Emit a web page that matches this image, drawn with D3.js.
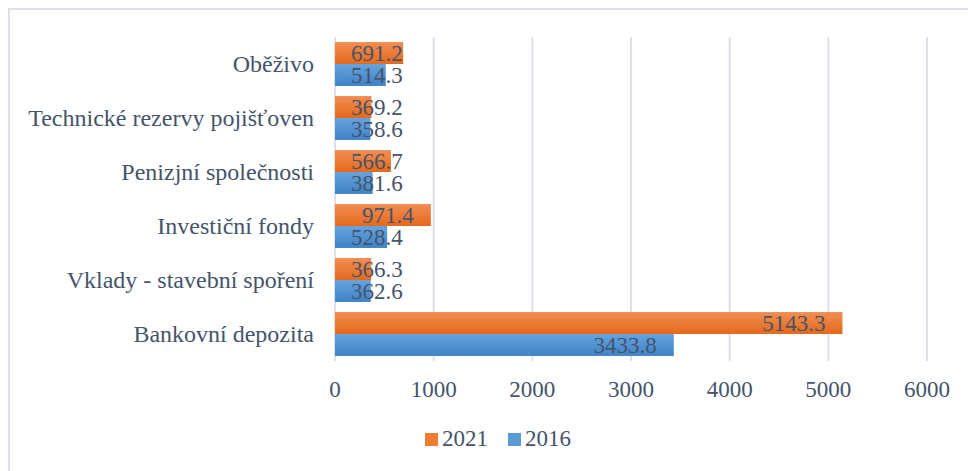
<!DOCTYPE html>
<html>
<head>
<meta charset="utf-8">
<script src="https://cdn.jsdelivr.net/npm/d3@7"></script>
<style>
  body { margin: 0; background: #fff; }
  .lbl { font-family: "Liberation Serif"; fill: #44546a; }
</style>
</head>
<body>
<div id="chart"></div>
<script>
const categories = ['Oběživo', 'Technické rezervy pojišťoven', 'Penizjní společnosti',
  'Investiční fondy', 'Vklady - stavební spoření', 'Bankovní depozita'];
const values2021 = [691.2, 369.2, 566.7, 971.4, 366.3, 5143.3];
const values2016 = [514.3, 358.6, 381.6, 528.4, 362.6, 3433.8];
const seriesNames = ['2021', '2016'];
const xTicks = [0, 1000, 2000, 3000, 4000, 5000, 6000];

const width = 968;
const height = 471;
const margin = { top: 37, bottom: 110, left: 335, right: 41 };

const svg = d3.select('#chart')
  .append('svg')
  .attr('width', width)
  .attr('height', height);

// frame
svg.append('path')
  .attr('d', `M9,${height} V9 H${width}`)
  .attr('fill', 'none')
  .attr('stroke', '#dde1e7')
  .attr('stroke-width', 2);

const defs = svg.append('defs');
function grad(id, c1, c2) {
  const g = defs.append('linearGradient').attr('id', id)
    .attr('x1', 0).attr('y1', 0).attr('x2', 0).attr('y2', 1);
  g.append('stop').attr('offset', '0%').attr('stop-color', c1);
  g.append('stop').attr('offset', '100%').attr('stop-color', c2);
}
grad('g2021', '#f28e52', '#e5691c');
grad('g2016', '#67a3de', '#3e82c8');
const fills = ['url(#g2021)', 'url(#g2016)'];
const swatch = ['#ed7d31', '#5b9bd5'];

const x = d3.scaleLinear()
  .domain([0, 6000])
  .range([margin.left, width - margin.right]);

const y = d3.scaleBand()
  .domain(categories)
  .range([margin.top, height - margin.bottom]);

const sub = d3.scaleBand()
  .domain(seriesNames)
  .range([0, y.bandwidth()])
  .paddingOuter(0.23);

// grid
svg.append('g')
  .selectAll('line')
  .data(xTicks)
  .join('line')
    .attr('x1', d => x(d))
    .attr('x2', d => x(d))
    .attr('y1', margin.top)
    .attr('y2', height - margin.bottom)
    .attr('stroke', '#dde1e7')
    .attr('stroke-width', 2);

const rows = categories.map((c, i) => ({ cat: c, vals: [values2021[i], values2016[i]] }));

const groups = svg.append('g')
  .selectAll('g')
  .data(rows)
  .join('g')
    .attr('transform', d => `translate(0,${y(d.cat)})`);

groups.selectAll('rect')
  .data(d => d.vals.map((v, j) => ({ v, s: seriesNames[j], j })))
  .join('rect')
    .attr('x', x(0))
    .attr('y', d => sub(d.s))
    .attr('width', d => x(d.v) - x(0))
    .attr('height', sub.bandwidth())
    .attr('fill', d => fills[d.j]);

// value labels, inside end (pushed right when the bar is too short)
groups.selectAll('text')
  .data(d => d.vals.map((v, j) => ({ v, s: seriesNames[j] })))
  .join('text')
    .attr('class', 'lbl')
    .attr('y', d => sub(d.s) + sub.bandwidth() / 2)
    .attr('dy', '0.35em')
    .attr('text-anchor', 'end')
    .attr('font-size', '23px')
    .text(d => d.v.toFixed(1))
    .each(function (d) {
      const w = this.getComputedTextLength();
      const end = Math.max(x(d.v) - 17, x(0) + 16 + w);
      d3.select(this).attr('x', end);
    });

// category axis
svg.append('g')
  .selectAll('text')
  .data(categories)
  .join('text')
    .attr('class', 'lbl')
    .attr('x', margin.left - 21)
    .attr('y', d => y(d) + y.bandwidth() / 2)
    .attr('dy', '0.35em')
    .attr('text-anchor', 'end')
    .attr('font-size', '24px')
    .text(d => d);

// value axis
svg.append('g')
  .selectAll('text')
  .data(xTicks)
  .join('text')
    .attr('class', 'lbl')
    .attr('x', d => x(d))
    .attr('y', 397)
    .attr('text-anchor', 'middle')
    .attr('font-size', '23px')
    .text(d => d);

// legend
const legend = svg.append('g').attr('transform', 'translate(425,433)');
const items = [{ name: '2021', x: 0 }, { name: '2016', x: 83 }];
items.forEach((it, i) => {
  legend.append('rect')
    .attr('x', it.x).attr('y', 0)
    .attr('width', 13).attr('height', 13)
    .attr('fill', swatch[i]);
  legend.append('text')
    .attr('class', 'lbl')
    .attr('x', it.x + 17).attr('y', 13)
    .attr('font-size', '23px')
    .text(it.name);
});
</script>
</body>
</html>
